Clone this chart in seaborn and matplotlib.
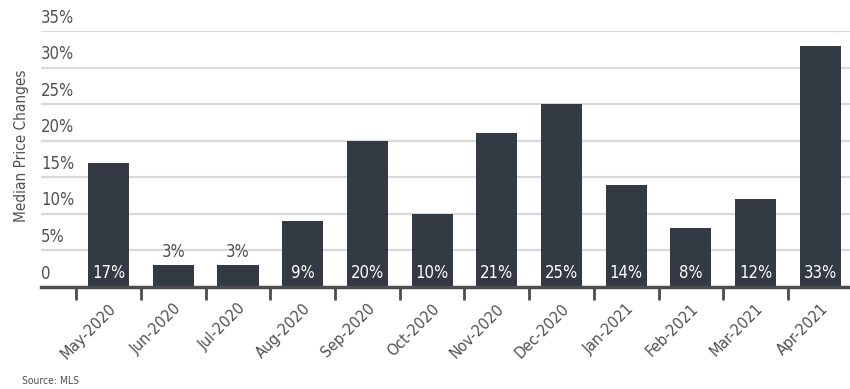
import matplotlib
matplotlib.use("Agg")
import matplotlib.pyplot as plt
import matplotlib.transforms as mtransforms
import seaborn as sns
import pandas as pd

months = ["May-2020", "Jun-2020", "Jul-2020", "Aug-2020", "Sep-2020", "Oct-2020",
          "Nov-2020", "Dec-2020", "Jan-2021", "Feb-2021", "Mar-2021", "Apr-2021"]
changes = [17, 3, 3, 9, 20, 10, 21, 25, 14, 8, 12, 33]
ytick_vals = [0, 5, 10, 15, 20, 25, 30, 35]
ytick_labels = ["0", "5%", "10%", "15%", "20%", "25%", "30%", "35%"]

sns.set_theme(style="white")
plt.rcParams['font.family'] = ['Liberation Sans Narrow', 'DejaVu Sans']
plt.rcParams['font.stretch'] = 'condensed'

df = pd.DataFrame({"month": months, "change": changes})

fig = plt.figure(figsize=(8.5, 3.89), dpi=100)
ax = fig.add_axes([41/850, 1-287/389, 1-41/850, (287-31)/389])

bar_color = "#343a44"
text_gray = "#505050"

sns.barplot(data=df, x="month", y="change", color=bar_color, width=0.635,
            saturation=1, linewidth=0, edgecolor="none", ax=ax, zorder=3)

ax.set_xlim(-1.045, 11.46)
ax.set_ylim(0, 35)

# gridlines
for v in ytick_vals[1:]:
    ax.axhline(v, color="#d9d9d9", lw=1.6, zorder=1)
ax.set_yticks([])
trans = mtransforms.blended_transform_factory(ax.transAxes, ax.transData)
for v, lab in zip(ytick_vals, ytick_labels):
    ax.text(0.0, v + 0.6, lab, transform=trans, ha="left", va="bottom",
            fontsize=12, color=text_gray)

for s in ["top", "right", "left"]:
    ax.spines[s].set_visible(False)
ax.spines["bottom"].set_color("#4d4d4d")
ax.spines["bottom"].set_linewidth(2.5)
ax.spines["bottom"].set_zorder(4)

# tick labels at bar centers, tick marks at boundaries
ax.set_xticks(range(len(months)))
ax.set_xticklabels(months, rotation=45, ha="right", rotation_mode="anchor",
                   fontsize=11.5, color=text_gray)
ax.tick_params(axis="x", which="major", length=0, pad=10)
ax.set_xticks([i - 0.5 for i in range(len(months))], minor=True)
ax.tick_params(axis="x", which="minor", length=9, width=2, color="#4d4d4d",
               direction="out", bottom=True)
ax.set_xlabel("")
ax.set_ylabel("")
fig.text(22/850, 1-146/389, "Median Price Changes", rotation=90, fontsize=11,
         color=text_gray, ha="center", va="center")

# value labels
for i, v in enumerate(changes):
    if v >= 5:
        ax.text(i, 0.7, f"{v}%", ha="center", va="bottom", fontsize=12,
                color="white", zorder=5)
    else:
        ax.text(i, v + 0.5, f"{v}%", ha="center", va="bottom", fontsize=12,
                color=text_gray, zorder=5)

fig.text(22/850, 1-381/389, "Source: MLS", fontsize=7.5, color=text_gray,
         ha="left", va="center")

fig.savefig("out.png", dpi=100)
